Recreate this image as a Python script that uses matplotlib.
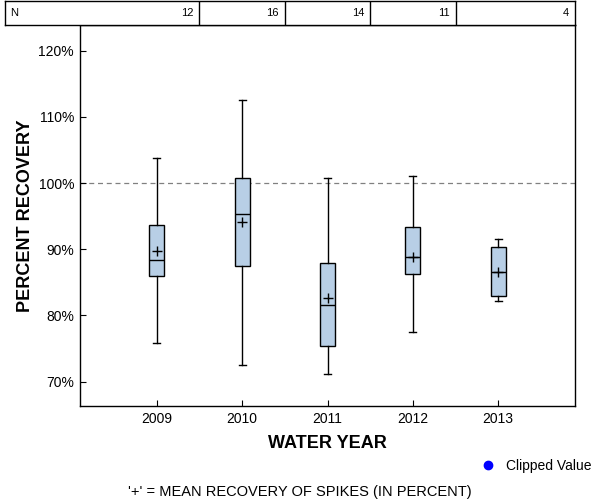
import matplotlib
matplotlib.use("Agg")
import matplotlib.pyplot as plt
from matplotlib.lines import Line2D

plt.rcParams["font.family"] = ["Liberation Sans", "DejaVu Sans"]

years = ["2009", "2010", "2011", "2012", "2013"]
counts = [12, 16, 14, 11, 4]
whisker_low = [75.9, 72.5, 71.2, 77.5, 82.2]
q1 = [85.9, 87.4, 75.3, 86.2, 83.0]
median = [88.3, 95.4, 81.6, 88.9, 86.5]
q3 = [93.6, 100.7, 87.9, 93.3, 90.3]
whisker_high = [103.8, 112.6, 100.7, 101.1, 91.6]
mean = [89.8, 94.1, 82.6, 88.9, 86.6]
yticks = [70, 80, 90, 100, 110, 120]

fig = plt.figure(figsize=(6, 5), dpi=100)
ax = fig.add_axes([80 / 600, 1 - 406 / 500, 495 / 600, 381 / 500])

stats = []
for i in range(len(years)):
    stats.append({
        "whislo": whisker_low[i], "q1": q1[i], "med": median[i],
        "q3": q3[i], "whishi": whisker_high[i], "mean": mean[i], "fliers": [],
    })

pos = list(range(1, len(years) + 1))
ax.bxp(stats, positions=pos, widths=0.176, patch_artist=True, showmeans=True,
       boxprops=dict(facecolor="#b8cfe6", edgecolor="black", linewidth=1),
       medianprops=dict(color="black", linewidth=1),
       whiskerprops=dict(color="black", linewidth=1),
       capprops=dict(color="black", linewidth=1), capwidths=0.085,
       meanprops=dict(marker="+", markeredgecolor="black", markersize=7, markeredgewidth=1))

ax.axhline(100, color="gray", linestyle=(0, (4, 3)), linewidth=0.9, zorder=0)

ax.set_xlim(0.1, 5.9)
ax.set_ylim(66.3, 123.9)
ax.set_xticks(pos)
ax.set_xticklabels(years)
ax.set_yticks(yticks)
ax.set_yticklabels([f"{t}%" for t in yticks])
ax.tick_params(direction="in", length=4, labelsize=10, colors="black")
ax.tick_params(axis="x", pad=4)
ax.tick_params(axis="y", pad=4.3)
for s in ax.spines.values():
    s.set_linewidth(1)
ax.set_xlabel("WATER YEAR", fontsize=13, fontweight="bold", labelpad=7)
ax.set_ylabel("PERCENT RECOVERY", fontsize=13, fontweight="bold", labelpad=3)

# N table across the top
tab = fig.add_axes([5 / 600, 1 - 25 / 500, 570 / 600, 24 / 500])
unit = 495 / 5.8
tab_left = 0.1 - 75 / unit
tab.set_xlim(tab_left, 5.9)
tab.set_ylim(0, 1)
tab.set_xticks([])
tab.set_yticks([])
for s in tab.spines.values():
    s.set_linewidth(1)
for i in range(len(years) - 1):
    tab.axvline(pos[i] + 0.5, color="black", linewidth=1)
tab.text(tab_left + 0.06, 0.5, "N", ha="left", va="center", fontsize=8)
for i, n in enumerate(counts):
    right = pos[i] + 0.5 if i < len(counts) - 1 else 5.9
    tab.text(right - 0.07, 0.5, str(n), ha="right", va="center", fontsize=8)

# legend for clipped values and footnote
fig.legend(handles=[Line2D([], [], marker="o", color="blue", linestyle="none", markersize=6)],
           labels=["Clipped Value"], loc="center right", bbox_to_anchor=(1.0, 1 - 466 / 500),
           frameon=False, fontsize=10, handletextpad=0.3, borderaxespad=0.2)
fig.text(0.5, 1 - 492 / 500, "'+' = MEAN RECOVERY OF SPIKES (IN PERCENT)", ha="center", va="center", fontsize=10.5)

fig.savefig("out.png", dpi=100)
